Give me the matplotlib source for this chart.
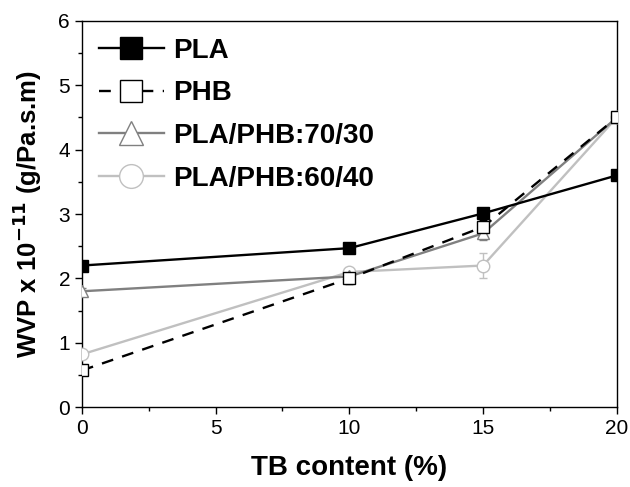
import matplotlib
matplotlib.use('Agg')
import matplotlib.pyplot as plt
from matplotlib.ticker import MultipleLocator

plt.rcParams['font.family'] = ['Liberation Sans', 'DejaVu Sans']

# TB content (%)
tb = [0, 10, 15, 20]

# WVP x 10^-11 (g/Pa.s.m)
pla = [2.2, 2.47, 3.01, 3.6]
pla_err = [0.05, 0.05, 0.07, 0.05]
phb = [0.57, 2.0, 2.8, 4.5]
phb_err = [0.05, 0.08, 0.1, 0.05]
blend_70_30 = [1.8, 2.03, 2.7, 4.5]
blend_70_30_err = [0.05, 0.08, 0.1, 0.05]
blend_60_40 = [0.82, 2.1, 2.2, 4.5]
blend_60_40_err = [0.05, 0.05, 0.2, 0.05]

fig = plt.figure(figsize=(6.3, 4.87), dpi=100)
ax = fig.add_axes([0.130, 0.164, 0.849, 0.793])

series = [
    (blend_60_40, blend_60_40_err, 'PLA/PHB:60/40', '#c0c0c0', 'o', 'white', '-'),
    (blend_70_30, blend_70_30_err, 'PLA/PHB:70/30', '#808080', '^', 'white', '-'),
    (phb, phb_err, 'PHB', 'black', 's', 'white', (0, (5, 4))),
    (pla, pla_err, 'PLA', 'black', 's', 'black', '-'),
]
handles = {}
for vals, err, name, col, mk, fc, ls in series:
    ax.errorbar(tb, vals, yerr=err, color=col, ecolor=col, elinewidth=1,
                capsize=3, linestyle='none', zorder=2)
    h, = ax.plot(tb, vals, color=col, linestyle=ls, linewidth=1.7,
                 marker=mk, markersize=9 if mk != 's' else 8,
                 markerfacecolor=fc, markeredgecolor=col, markeredgewidth=1, zorder=3)
    handles[name] = h

order = ['PLA', 'PHB', 'PLA/PHB:70/30', 'PLA/PHB:60/40']
leg = ax.legend([handles[n] for n in order], order, loc='upper left',
                frameon=False, markerscale=1.9, handlelength=2.35,
                handletextpad=0.35, labelspacing=0.6, borderaxespad=0.25,
                borderpad=0.35,
                prop={'weight': 'bold', 'size': 20})

ax.set_xlim(0, 20)
ax.set_ylim(0, 6)
ax.xaxis.set_major_locator(MultipleLocator(5))
ax.xaxis.set_minor_locator(MultipleLocator(2.5))
ax.yaxis.set_major_locator(MultipleLocator(1))
ax.yaxis.set_minor_locator(MultipleLocator(0.5))
ax.tick_params(which='major', direction='out', length=5, width=1, labelsize=15)
ax.tick_params(which='minor', direction='out', length=3, width=1)
for s in ax.spines.values():
    s.set_linewidth(1)

ax.set_xlabel('TB content (%)', fontsize=20, fontweight='bold', labelpad=12)
ax.set_ylabel(r'WVP x 10$^{\mathbf{-11}}$ (g/Pa.s.m)', fontsize=18.5,
              fontweight='bold', labelpad=10)

fig.savefig('out.png', dpi=100)
